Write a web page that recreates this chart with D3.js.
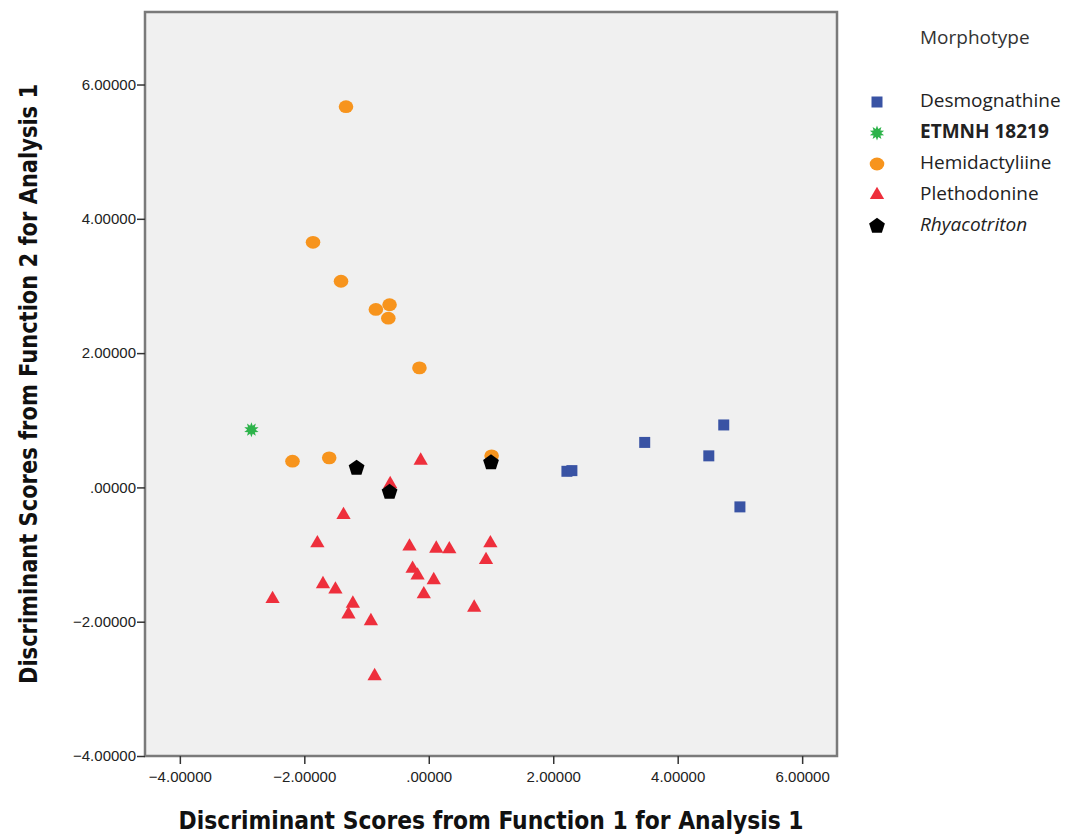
<!DOCTYPE html>
<html>
<head>
<meta charset="utf-8">
<script src="https://cdn.jsdelivr.net/npm/d3@7"></script>
<style>
    body { margin: 0; background: #ffffff; }
    svg { display: block; }
</style>
</head>
<body>
<div id="chart"></div>
<script>
//Scores, [function 1, function 2]
const desmognathine = [[2.22, 0.24], [2.30, 0.25], [3.47, 0.67], [4.50, 0.47], [4.74, 0.93], [5.00, -0.29]];
const etmnh = [[-2.85, 0.86]];
const hemidactyliine = [[-1.33, 5.67], [-1.86, 3.65], [-1.41, 3.07], [-0.85, 2.65], [-0.63, 2.72], [-0.65, 2.52],
    [-0.15, 1.78], [-2.19, 0.39], [-1.60, 0.44], [1.01, 0.47]];
const plethodonine = [[-0.13, 0.40], [-0.62, 0.05], [-1.37, -0.41], [-1.79, -0.83], [-2.51, -1.66], [-1.70, -1.44],
    [-1.50, -1.52], [-1.22, -1.73], [-1.29, -1.89], [-0.93, -1.99], [-0.87, -2.81], [-0.31, -0.88],
    [0.12, -0.91], [0.33, -0.92], [0.99, -0.83], [0.92, -1.08], [-0.26, -1.21], [-0.18, -1.31],
    [0.08, -1.38], [-0.08, -1.59], [0.73, -1.79]];
const rhyacotriton = [[-1.16, 0.29], [-0.63, -0.07], [1.00, 0.37]];

const groupNames = ["Desmognathine", "ETMNH 18219", "Hemidactyliine", "Plethodonine", "Rhyacotriton"];
const xTicks = [-4, -2, 0, 2, 4, 6];
const yTicks = [-4, -2, 0, 2, 4, 6];

const groups = [
    {name: groupNames[0], data: desmognathine, color: "#3953a4", shape: "square", weight: "normal", style: "normal"},
    {name: groupNames[1], data: etmnh, color: "#2db34a", shape: "star", weight: "bold", style: "normal"},
    {name: groupNames[2], data: hemidactyliine, color: "#f7941d", shape: "circle", weight: "normal", style: "normal"},
    {name: groupNames[3], data: plethodonine, color: "#ee2f3c", shape: "triangle", weight: "normal", style: "normal"},
    {name: groupNames[4], data: rhyacotriton, color: "#000000", shape: "pentagon", weight: "normal", style: "italic"}
];

const width = 1090, height = 835;
const plot = {left: 145, right: 837, top: 12, bottom: 756};

const svg = d3.select("#chart").append("svg")
    .attr("width", width)
    .attr("height", height);

const x = d3.scaleLinear().domain([-4.56, 6.56]).range([plot.left, plot.right]);
const y = d3.scaleLinear().domain([-4, 7.08]).range([plot.bottom, plot.top]);

//Plot background and frame
svg.append("rect")
    .attr("x", plot.left)
    .attr("y", plot.top)
    .attr("width", plot.right - plot.left)
    .attr("height", plot.bottom - plot.top)
    .attr("fill", "#f0f0f0")
    .attr("stroke", "#7a7a7a")
    .attr("stroke-width", 2.5);

//Shape paths
function shapePath(shape) {
    if (shape === "square") return d3.symbol(d3.symbolSquare, 121)();
    if (shape === "triangle") return d3.symbol(d3.symbolTriangle, 88)();
    if (shape === "pentagon") {
        const p = d3.path();
        for (let i = 0; i < 5; i++) {
            const a = -Math.PI / 2 + i * 2 * Math.PI / 5;
            if (i === 0) p.moveTo(8.3 * Math.cos(a), 8.3 * Math.sin(a));
            else p.lineTo(8.3 * Math.cos(a), 8.3 * Math.sin(a));
        }
        p.closePath();
        return p.toString();
    }
    if (shape === "star") {
        const p = d3.path();
        for (let i = 0; i < 20; i++) {
            const r = i % 2 === 0 ? 7.5 : 4.2;
            const a = -Math.PI / 2 + i * Math.PI / 10;
            if (i === 0) p.moveTo(r * Math.cos(a), r * Math.sin(a));
            else p.lineTo(r * Math.cos(a), r * Math.sin(a));
        }
        p.closePath();
        return p.toString();
    }
    return null;
}

function drawMarker(sel, g) {
    if (g.shape === "circle") {
        sel.append("ellipse")
            .attr("rx", 7.3)
            .attr("ry", 6.4)
            .attr("fill", g.color);
    } else {
        sel.append("path")
            .attr("d", shapePath(g.shape))
            .attr("fill", g.color);
    }
}

//Points
groups.forEach(function (g) {
    svg.append("g")
        .selectAll("g")
        .data(g.data)
        .enter()
        .append("g")
        .attr("transform", function (d) {
            return "translate(" + x(d[0]) + "," + y(d[1]) + ")";
        })
        .each(function () {
            drawMarker(d3.select(this), g);
        });
});

//Axes
const fmt = function (d) {
    return d === 0 ? ".00000" : d3.format(".5f")(d);
};

const xAxis = svg.append("g")
    .attr("transform", "translate(0," + plot.bottom + ")")
    .call(d3.axisBottom(x).tickValues(xTicks).tickFormat(fmt).tickSizeOuter(0).tickSize(8));
const yAxis = svg.append("g")
    .attr("transform", "translate(" + plot.left + ",0)")
    .call(d3.axisLeft(y).tickValues(yTicks).tickFormat(fmt).tickSizeOuter(0).tickSize(8));

[xAxis, yAxis].forEach(function (a) {
    a.select(".domain").remove();
    a.selectAll(".tick line").attr("stroke", "#333333").attr("stroke-width", 1.5);
    a.selectAll(".tick text")
        .attr("fill", "#222222")
        .style("font-family", "'Liberation Sans', Arial, sans-serif")
        .style("font-size", "15px");
});
xAxis.selectAll(".tick text").attr("dy", "1.0em");
yAxis.selectAll(".tick text").attr("x", -9);

//Axis titles
svg.append("text")
    .attr("x", (plot.left + plot.right) / 2)
    .attr("y", 829)
    .attr("text-anchor", "middle")
    .attr("fill", "#111111")
    .attr("textLength", 625)
    .attr("lengthAdjust", "spacingAndGlyphs")
    .style("font-family", "'DejaVu Sans Condensed', 'Liberation Sans', sans-serif")
    .style("font-weight", "bold")
    .style("font-size", "25px")
    .text("Discriminant Scores from Function 1 for Analysis 1");

svg.append("text")
    .attr("transform", "translate(37," + (plot.top + plot.bottom) / 2 + ") rotate(-90)")
    .attr("text-anchor", "middle")
    .attr("fill", "#111111")
    .attr("textLength", 600)
    .attr("lengthAdjust", "spacingAndGlyphs")
    .style("font-family", "'DejaVu Sans Condensed', 'Liberation Sans', sans-serif")
    .style("font-weight", "bold")
    .style("font-size", "25px")
    .text("Discriminant Scores from Function 2 for Analysis 1");

//Legend
const legend = svg.append("g").attr("class", "legend");
legend.append("text")
    .attr("x", 920)
    .attr("y", 44)
    .attr("fill", "#333333")
    .style("font-family", "'Open Sans', 'Noto Sans', sans-serif")
    .style("font-size", "19px")
    .text("Morphotype");

const legendRows = legend.selectAll(".legend-row")
    .data(groups)
    .enter()
    .append("g")
    .attr("class", "legend-row")
    .attr("transform", function (d, i) {
        return "translate(0," + (100 + i * 31) + ")";
    });

legendRows.append("g")
    .attr("transform", "translate(877,2)")
    .each(function (g) {
        drawMarker(d3.select(this), g);
    });

legendRows.append("text")
    .attr("x", 920)
    .attr("y", 7)
    .attr("fill", "#222222")
    .style("font-family", "'Open Sans', 'Noto Sans', sans-serif")
    .style("font-size", "19px")
    .style("font-weight", function (d) { return d.weight; })
    .style("font-style", function (d) { return d.style; })
    .text(function (d) { return d.name; });
</script>
</body>
</html>
